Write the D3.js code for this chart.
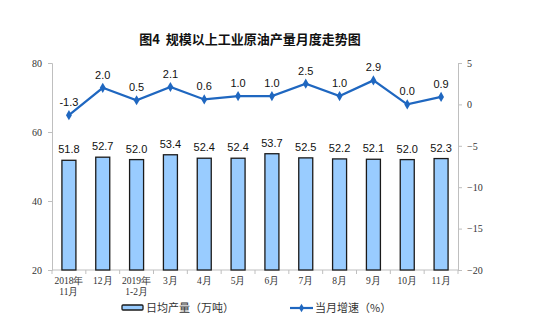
<!DOCTYPE html>
<html><head><meta charset="utf-8">
<script src="https://cdn.jsdelivr.net/npm/d3@7"></script>
<style>body{margin:0;background:#fff;}svg{display:block;}</style>
</head><body>
<svg id="c" width="550" height="328"></svg>
<script>
const categories = [["2018年","11月"],["12月"],["2019年","1-2月"],["3月"],["4月"],["5月"],["6月"],["7月"],["8月"],["9月"],["10月"],["11月"]];
const output = [51.8, 52.7, 52.0, 53.4, 52.4, 52.4, 53.7, 52.5, 52.2, 52.1, 52.0, 52.3];
const growth = [-1.3, 2.0, 0.5, 2.1, 0.6, 1.0, 1.0, 2.5, 1.0, 2.9, 0.0, 0.9];
const leftTicks = [20, 40, 60, 80];
const rightTicks = [-20, -15, -10, -5, 0, 5];
const title = "图4\u00a0\u00a0规模以上工业原油产量月度走势图";
const legendBar = "日均产量（万吨）";
const legendLine = "当月增速（%）";

const svg = d3.select("#c");
const L = 52, R = 458, T = 63, B = 270;
const idx = categories.map((d,i)=>i);
const x = d3.scaleBand().domain(idx).range([L, R]).paddingInner(0).paddingOuter(0);
const yL = d3.scaleLinear().domain([20, 80]).range([B, T]);
const yR = d3.scaleLinear().domain([-20, 5]).range([B, T]);
const axisColor = "#bfbfbf";
const sans = "'Liberation Sans', Arial, sans-serif";
const serif = "'Liberation Serif', 'Times New Roman', serif";
const cjk = "'Noto Sans CJK SC', sans-serif";

// title
svg.append("text").attr("x", 250).attr("y", 44).attr("text-anchor","middle")
  .attr("font-family", cjk).attr("font-weight","bold").attr("font-size", 13).attr("fill","#111")
  .text(title);

// left axis
const gl = svg.append("g").attr("transform", `translate(${L},0)`)
  .call(d3.axisLeft(yL).tickValues(leftTicks).tickSize(4).tickPadding(6));
gl.select(".domain").attr("stroke", axisColor);
gl.selectAll(".tick line").attr("stroke", axisColor);
gl.selectAll(".tick text").attr("font-family", serif).attr("font-size", 10).attr("fill","#333");

// right axis
const gr = svg.append("g").attr("transform", `translate(${R},0)`)
  .call(d3.axisRight(yR).tickValues(rightTicks).tickSize(4).tickPadding(5));
gr.select(".domain").attr("stroke", axisColor);
gr.selectAll(".tick line").attr("stroke", axisColor);
gr.selectAll(".tick text").attr("font-family", serif).attr("font-size", 10).attr("fill","#333");

// bottom axis line + boundary ticks
svg.append("line").attr("x1", L).attr("x2", R).attr("y1", B).attr("y2", B).attr("stroke", axisColor);
const bounds = idx.map(i => x(i)).concat([R]);
svg.selectAll(".bt").data(bounds).enter().append("line")
  .attr("x1", d=>d).attr("x2", d=>d).attr("y1", B).attr("y2", B+4).attr("stroke", axisColor);

// category labels
const cl = svg.selectAll(".cat").data(categories).enter().append("text")
  .attr("text-anchor","middle").attr("font-family", serif).attr("font-size", 9.5).attr("fill","#333")
  .attr("x", (d,i)=>x(i)+x.bandwidth()/2).attr("y", 284);
cl.selectAll("tspan").data(d=>d).enter().append("tspan")
  .attr("x", function(){return this.parentNode.getAttribute("x");})
  .attr("dy", (d,j)=> j===0 ? 0 : 11).text(d=>d);

// bars
const bw = 14;
svg.selectAll(".bar").data(output).enter().append("rect")
  .attr("x", (d,i)=>x(i)+x.bandwidth()/2-bw/2).attr("width", bw)
  .attr("y", d=>yL(d)).attr("height", d=>B-yL(d))
  .attr("fill","#99ccff").attr("stroke","#1a1a1a").attr("stroke-width",1.3);
svg.selectAll(".bl").data(output).enter().append("text")
  .attr("x",(d,i)=>x(i)+x.bandwidth()/2).attr("y", d=>yL(d)-7)
  .attr("text-anchor","middle").attr("font-family", sans).attr("font-size", 11).attr("fill","#111")
  .text(d=>d.toFixed(1));

// line
const lineColor = "#1f67c0";
const line = d3.line().x((d,i)=>x(i)+x.bandwidth()/2).y(d=>yR(d));
svg.append("path").datum(growth).attr("d", line).attr("fill","none")
  .attr("stroke", lineColor).attr("stroke-width", 2.2);
const diamond = d3.symbol().type(d3.symbolDiamond).size(30);
svg.selectAll(".pt").data(growth).enter().append("path")
  .attr("d", diamond).attr("fill", lineColor)
  .attr("transform",(d,i)=>`translate(${x(i)+x.bandwidth()/2},${yR(d)})`);
svg.selectAll(".ll").data(growth).enter().append("text")
  .attr("x",(d,i)=>x(i)+x.bandwidth()/2).attr("y", d=>yR(d)-9)
  .attr("text-anchor","middle").attr("font-family", sans).attr("font-size", 11).attr("fill","#111")
  .text(d=>d.toFixed(1));

// legend
svg.append("rect").attr("x",122).attr("y",305).attr("width",21).attr("height",5)
  .attr("fill","#99ccff").attr("stroke","#1a1a1a").attr("stroke-width",1.3).attr("rx",1);
svg.append("text").attr("x",146).attr("y",312).attr("font-family", cjk).attr("font-size",11).attr("fill","#333").text(legendBar);
svg.append("line").attr("x1",290).attr("x2",313).attr("y1",308).attr("y2",308).attr("stroke",lineColor).attr("stroke-width",2.2);
svg.append("path").attr("d", d3.symbol().type(d3.symbolDiamond).size(22)).attr("fill",lineColor).attr("transform","translate(301.5,308)");
svg.append("text").attr("x",315).attr("y",312).attr("font-family", cjk).attr("font-size",11).attr("fill","#333").text(legendLine);
</script>
</body></html>
